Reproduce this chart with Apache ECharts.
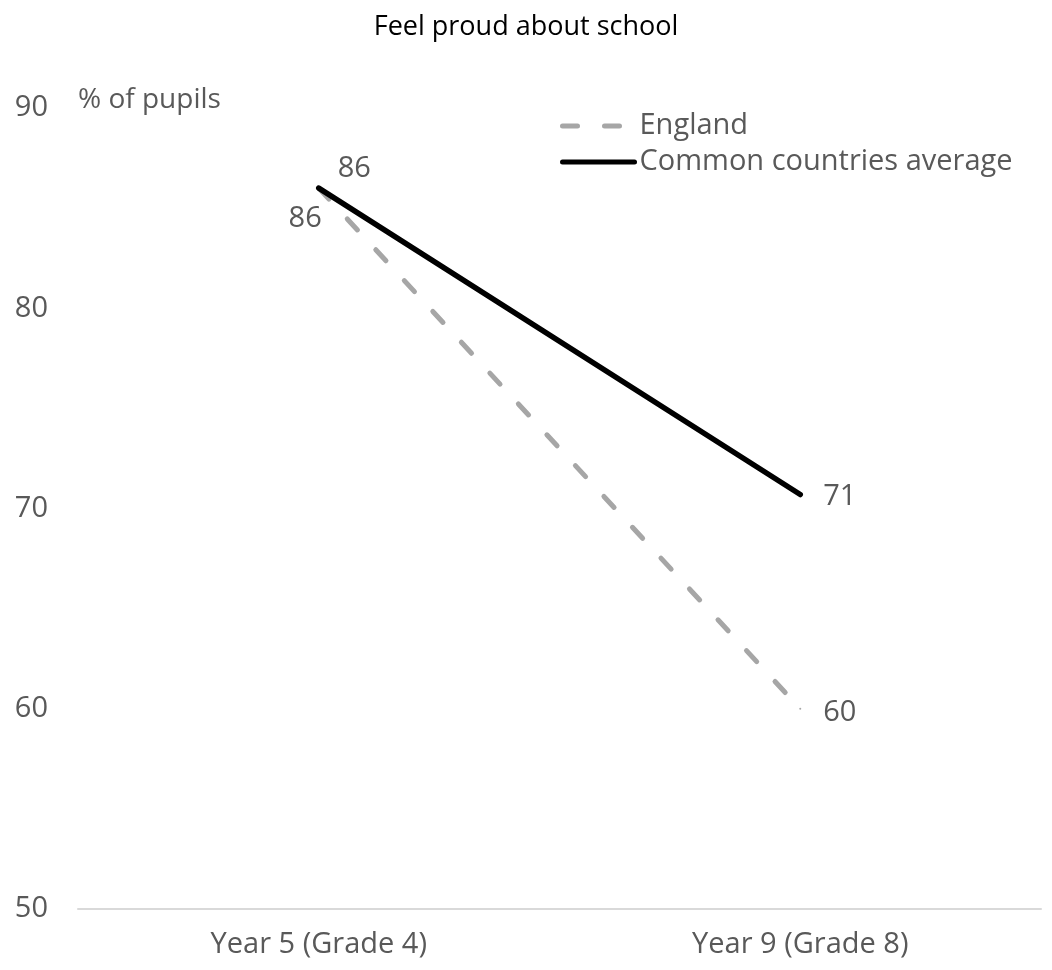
<!DOCTYPE html>
<html>
<head>
<meta charset="utf-8">
<script src="https://cdn.jsdelivr.net/npm/echarts@6/dist/echarts.min.js"></script>
<style>
  html, body { margin: 0; padding: 0; background: #fff; }
  #chart { width: 1052px; height: 970px; }
</style>
</head>
<body>
<div id="chart"></div>
<script>
// Share of pupils who feel proud about their school, by year group
const titleText = 'Feel proud about school';
const yAxisTitle = '% of pupils';
const categories = ['Year 5 (Grade 4)', 'Year 9 (Grade 8)'];
const englandValues = [86, 60];
const commonValues = [86, 70.7];
const seriesNames = ['England', 'Common countries average'];

const FONT = '"Open Sans", "Liberation Sans", sans-serif';
const TEXT_GREY = '#595959';
const FS = 29;

const chart = echarts.init(document.getElementById('chart'), null, { renderer: 'canvas' });

const labelBase = {
  show: true,
  color: TEXT_GREY,
  fontFamily: FONT,
  fontSize: FS,
  formatter: p => Math.round(p.value)
};

chart.setOption({
  animation: false,
  backgroundColor: '#ffffff',
  title: {
    text: titleText,
    left: 'center',
    top: 9,
    textStyle: { fontFamily: FONT, fontSize: 27, fontWeight: 'normal', color: '#000000' }
  },
  legend: {
    orient: 'vertical',
    left: 555,
    top: 106,
    itemWidth: 72,
    itemHeight: 14,
    itemGap: 6,
    itemStyle: { opacity: 0 },
    lineStyle: { width: 5, cap: 'round' },
    textStyle: { fontFamily: FONT, fontSize: FS, color: TEXT_GREY, lineHeight: 30 },
    data: seriesNames
  },
  grid: { left: 78, right: 11, top: 108, bottom: 61, containLabel: false },
  xAxis: {
    type: 'category',
    data: categories,
    boundaryGap: true,
    axisLine: { show: true, lineStyle: { color: '#d9d9d9', width: 2 } },
    axisTick: { show: false },
    axisLabel: { margin: 21, color: TEXT_GREY, fontFamily: FONT, fontSize: FS },
    splitLine: { show: false }
  },
  yAxis: {
    type: 'value',
    min: 50,
    max: 90,
    interval: 10,
    name: yAxisTitle,
    nameLocation: 'end',
    nameGap: 8,
    nameTextStyle: { align: 'left', verticalAlign: 'bottom', color: TEXT_GREY, fontFamily: FONT, fontSize: 28, padding: [0, 0, -14, 0] },
    axisLine: { show: false },
    axisTick: { show: false },
    splitLine: { show: false },
    axisLabel: { margin: 30, color: TEXT_GREY, fontFamily: FONT, fontSize: FS }
  },
  series: [
    {
      name: seriesNames[0],
      type: 'line',
      data: englandValues.map((v, i) => ({
        value: v,
        label: i === 0
          ? { position: 'left', distance: 0, offset: [4, 31] }
          : { position: 'right', distance: 22, offset: [0, 4] }
      })),
      symbol: 'circle',
      symbolSize: 2,
      itemStyle: { color: '#a6a6a6' },
      lineStyle: { color: '#a6a6a6', width: 5, type: [15, 27], cap: 'round' },
      label: labelBase,
      z: 2
    },
    {
      name: seriesNames[1],
      type: 'line',
      data: commonValues.map((v, i) => ({
        value: v,
        label: i === 0
          ? { position: 'right', distance: 18, offset: [0, -19] }
          : { position: 'right', distance: 22, offset: [0, 2] }
      })),
      symbol: 'circle',
      symbolSize: 2,
      itemStyle: { color: '#000000' },
      lineStyle: { color: '#000000', width: 5.5, cap: 'round' },
      label: labelBase,
      z: 3
    }
  ]
});
</script>
</body>
</html>
